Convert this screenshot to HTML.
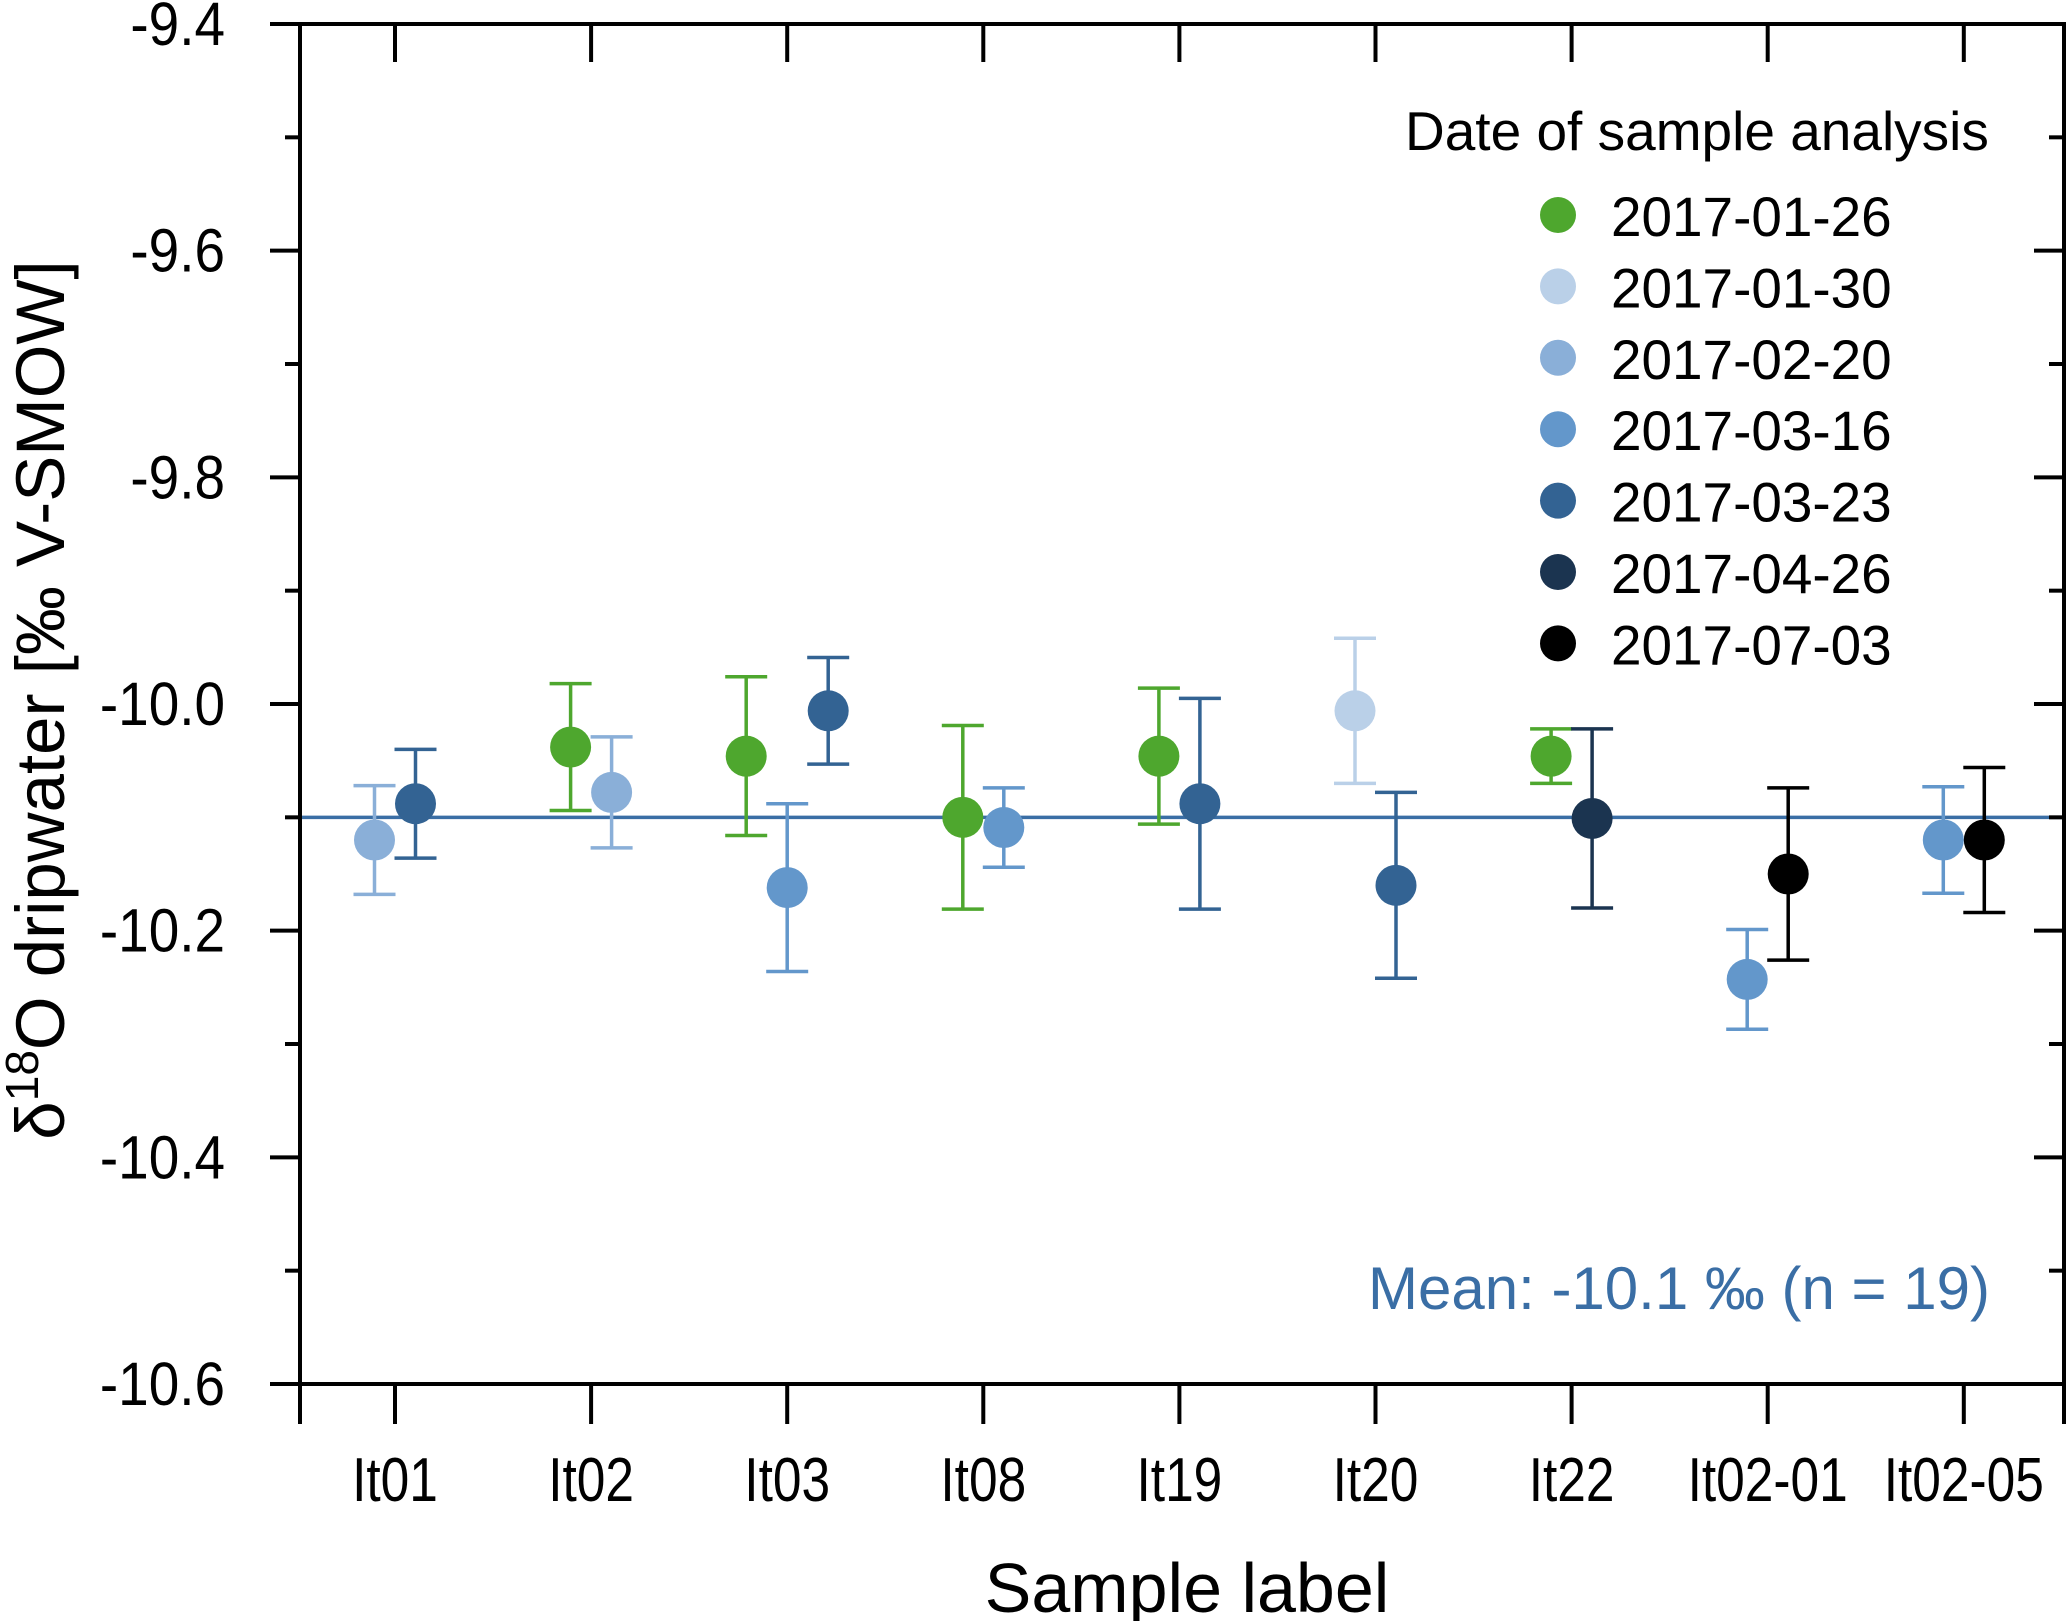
<!DOCTYPE html>
<html><head><meta charset="utf-8"><style>
html,body{margin:0;padding:0;background:#fff}
svg{display:block;font-family:"Liberation Sans",Arial,sans-serif}
</style></head><body>
<svg id="chart" width="2067" height="1621" viewBox="0 0 2067 1621" xmlns="http://www.w3.org/2000/svg"></svg>
<script>
const categories = ["It01","It02","It03","It08","It19","It20","It22","It02-01","It02-05"];
const seriesDates = ["2017-01-26","2017-01-30","2017-02-20","2017-03-16","2017-03-23","2017-04-26","2017-07-03"];
const seriesColors = ["#4ea72e","#bad0e8","#8aafd8","#6397cb","#336393","#1b3450","#000000"];
const pointCat = [0,0, 1,1, 2,2,2, 3,3, 4,4, 5,5, 6,6, 7,7, 8,8];
const pointSeries = [2,4, 0,2, 0,3,4, 0,3, 0,4, 1,4, 0,5, 3,6, 3,6];
const pointSlot = [-0.5,0.5, -0.5,0.5, -1,0,1, -0.5,0.5, -0.5,0.5, -0.5,0.5, -0.5,0.5, -0.5,0.5, -0.5,0.5];
const pointValue = [-10.12,-10.088, -10.038,-10.078, -10.046,-10.162,-10.006, -10.1,-10.109, -10.046,-10.088, -10.006,-10.16, -10.046,-10.101, -10.243,-10.15, -10.12,-10.12];
const pointErr = [0.048,0.048, 0.056,0.049, 0.07,0.074,0.047, 0.081,0.035, 0.06,0.093, 0.064,0.082, 0.024,0.079, 0.044,0.076, 0.047,0.064];
const yTicks = [-9.4,-9.6,-9.8,-10.0,-10.2,-10.4,-10.6];
const yTickLabels = ["-9.4","-9.6","-9.8","-10.0","-10.2","-10.4","-10.6"];
const meanValue = -10.1;

const NS="http://www.w3.org/2000/svg";
const svg=document.getElementById('chart');
const L=300,R=2064,T=24,B=1384, yMax=-9.4,yMin=-10.6;
const yS=v=>T+(yMax-v)/(yMax-yMin)*(B-T);
const xC=i=>395+196.1*i;
const slotW=41;
function mk(tag,attrs,parent){const e=document.createElementNS(NS,tag);for(const k in attrs)e.setAttribute(k,attrs[k]);(parent||svg).appendChild(e);return e;}
function squeeze(t,f){const w=t.getComputedTextLength();t.setAttribute('textLength',(w*f).toFixed(1));t.setAttribute('lengthAdjust','spacingAndGlyphs');}

const ml=mk('line',{x1:L,x2:R,y1:yS(meanValue),y2:yS(meanValue),stroke:'#3a6ea5','stroke-width':3.5});



for(let k=0;k<pointValue.length;k++){
  const g=mk('g',{});
  
  
  const x=xC(pointCat[k])+pointSlot[k]*slotW;
  const c=seriesColors[pointSeries[k]];
  const y1=yS(pointValue[k]+pointErr[k]), y2=yS(pointValue[k]-pointErr[k]);
  mk('line',{x1:x,x2:x,y1:y1,y2:y2,stroke:c,'stroke-width':3.5},g);
  mk('line',{x1:x-21,x2:x+21,y1:y1,y2:y1,stroke:c,'stroke-width':3.5},g);
  mk('line',{x1:x-21,x2:x+21,y1:y2,y2:y2,stroke:c,'stroke-width':3.5},g);
  mk('circle',{cx:x,cy:yS(pointValue[k]),r:20.5,fill:c},g);
}

const fr=mk('rect',{x:L,y:T,width:R-L,height:B-T,fill:'none',stroke:'#000','stroke-width':4});



for(let v=0;v<=12;v++){
  const val=yMax-v*0.1, y=yS(val), major=v%2===0;
  mk('line',{x1:L-(major?30:15),x2:L,y1:y,y2:y,stroke:'#000','stroke-width':4});
  mk('line',{x1:R-(major?30:15),x2:R,y1:y,y2:y,stroke:'#000','stroke-width':4});
}
yTicks.forEach((v,i)=>{
  const t=mk('text',{x:225,y:yS(v)+21,'text-anchor':'end','font-size':61,fill:'#000'});
  t.textContent=yTickLabels[i];
  
  
  squeeze(t,0.9);
});
categories.forEach((c,i)=>{
  const x=xC(i);
  mk('line',{x1:x,x2:x,y1:B,y2:B+40,stroke:'#000','stroke-width':4});
  mk('line',{x1:x,x2:x,y1:T,y2:T+38,stroke:'#000','stroke-width':4});
  const t=mk('text',{x:x,y:1501,'text-anchor':'middle','font-size':62,fill:'#000'});
  t.textContent=c;
  
  
  squeeze(t,0.83);
});
mk('line',{x1:L,x2:L,y1:B,y2:B+40,stroke:'#000','stroke-width':4});
mk('line',{x1:R,x2:R,y1:B,y2:B+40,stroke:'#000','stroke-width':4});

const lt=mk('text',{x:1405,y:150,'font-size':55,fill:'#000'});
lt.textContent='Date of sample analysis';


seriesDates.forEach((d,i)=>{
  const g=mk('g',{});
  
  
  const y=215+71.4*i;
  mk('circle',{cx:1558,cy:y,r:18,fill:seriesColors[i]},g);
  const t=mk('text',{x:1611,y:y+21,'font-size':56,fill:'#000'},g);
  t.textContent=d;
  squeeze(t,0.98);
});

const mt=mk('text',{x:1990,y:1309,'text-anchor':'end','font-size':60,fill:'#3a6ea5'});
mt.textContent='Mean: -10.1 ‰ (n = 19)';



const xt=mk('text',{x:1187,y:1612,'text-anchor':'middle','font-size':70,fill:'#000'});
xt.textContent='Sample label';


const yt=mk('text',{x:0,y:0,'text-anchor':'middle','font-size':69,fill:'#000',transform:'translate(64,700) rotate(-90)'});
yt.innerHTML='δ<tspan dy="-26" font-size="46">18</tspan><tspan dy="26">O dripwater [‰ V-SMOW]</tspan>';


</script>
</body></html>
